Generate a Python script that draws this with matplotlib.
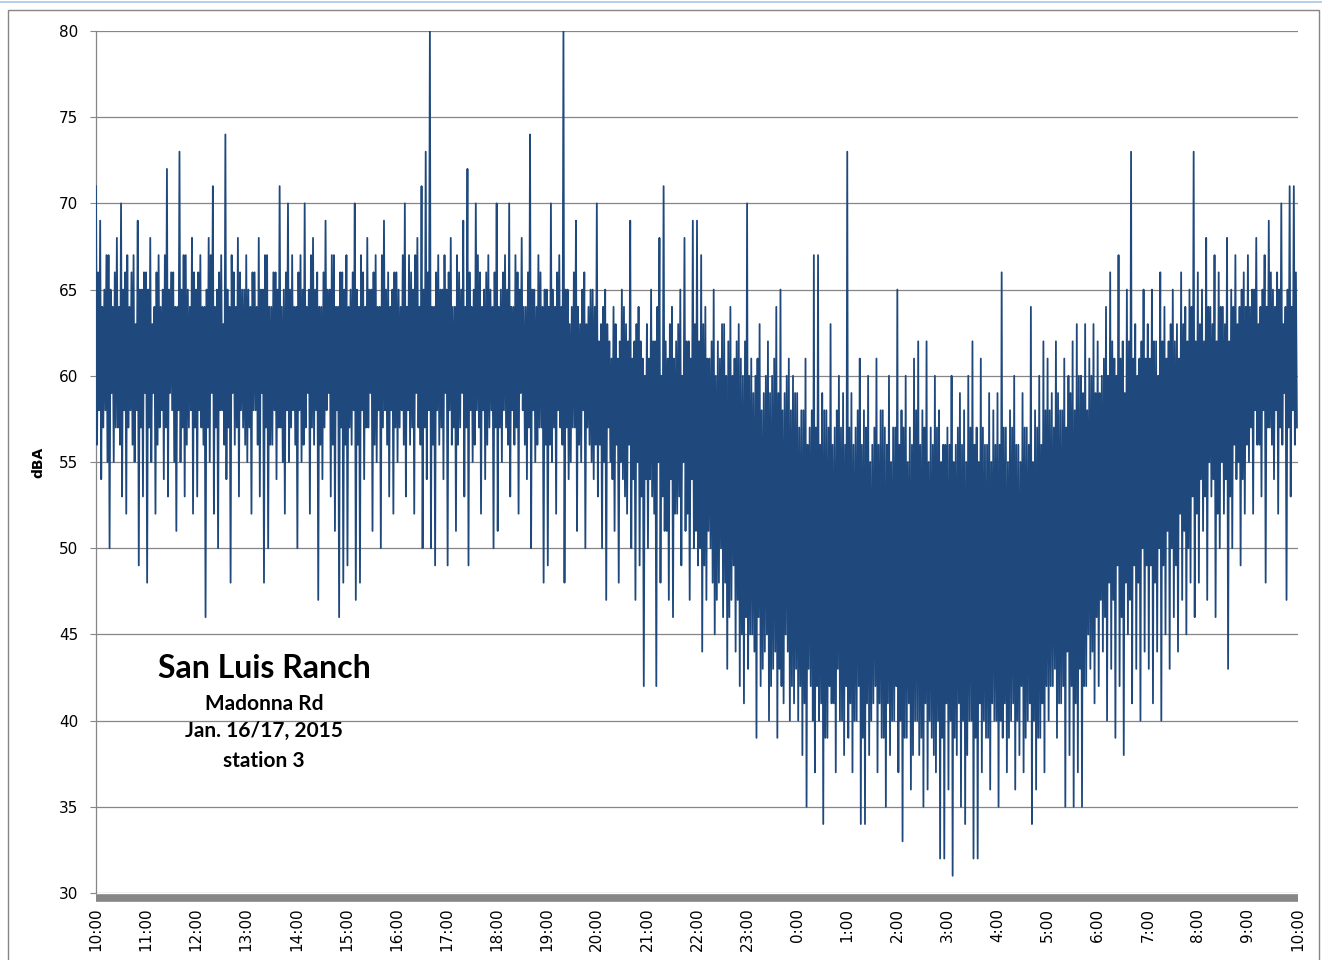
import numpy as np
import matplotlib.pyplot as plt
from matplotlib.patches import Rectangle
from matplotlib.lines import Line2D

# Sound level readings (dBA): alternating peak / dip, one pair per 2.5 min,
# one row per hour starting at 10:00 on Jan. 16
hi_day = [
    [71, 66, 69, 64, 65, 67, 67, 65, 64, 66, 68, 64, 70, 65, 66, 67, 64, 66, 67, 63, 69, 65, 65, 66],  # 10:00
    [66, 65, 68, 63, 64, 66, 67, 64, 65, 67, 72, 65, 66, 66, 64, 64, 73, 65, 67, 67, 65, 64, 68, 66],  # 11:00
    [65, 66, 67, 64, 64, 65, 68, 67, 71, 64, 65, 66, 67, 63, 74, 65, 64, 67, 66, 64, 68, 66, 65, 65],  # 12:00
    [67, 65, 64, 66, 66, 64, 68, 65, 65, 67, 67, 64, 64, 66, 66, 65, 71, 64, 65, 66, 70, 65, 67, 64],  # 13:00
    [64, 66, 67, 65, 70, 64, 65, 67, 68, 65, 66, 64, 64, 66, 69, 65, 65, 67, 67, 64, 64, 66, 66, 65],  # 14:00
    [67, 64, 65, 66, 70, 65, 64, 67, 66, 64, 68, 65, 65, 66, 67, 64, 64, 67, 69, 65, 66, 64, 65, 66],  # 15:00
    [66, 65, 64, 67, 70, 64, 67, 66, 65, 67, 68, 64, 71, 65, 73, 66, 80, 64, 64, 66, 67, 65, 65, 67],  # 16:00
    [65, 66, 68, 64, 64, 67, 66, 65, 69, 64, 72, 66, 64, 65, 70, 67, 66, 64, 65, 66, 67, 65, 64, 66],  # 17:00
    [70, 64, 65, 66, 67, 65, 70, 64, 64, 67, 66, 65, 68, 64, 64, 66, 74, 65, 65, 64, 67, 66, 64, 65],  # 18:00
    [65, 64, 70, 65, 64, 66, 67, 64, 80, 65, 65, 63, 64, 66, 69, 64, 63, 65, 66, 63, 64, 65, 65, 64],  # 19:00
]
lo_day = [
    [56, 58, 54, 57, 58, 55, 50, 59, 55, 57, 57, 56, 53, 58, 52, 57, 58, 56, 55, 58, 49, 57, 53, 59],
    [48, 57, 55, 59, 52, 56, 57, 58, 54, 57, 53, 59, 58, 55, 51, 58, 55, 57, 53, 56, 57, 58, 52, 57],
    [53, 58, 57, 56, 46, 57, 55, 59, 52, 57, 50, 58, 58, 56, 54, 57, 48, 59, 56, 57, 53, 58, 57, 56],
    [55, 57, 52, 58, 58, 56, 53, 59, 48, 57, 50, 56, 56, 58, 54, 57, 57, 55, 52, 58, 55, 57, 58, 56],
    [50, 58, 55, 56, 57, 59, 52, 57, 56, 58, 47, 56, 54, 57, 58, 59, 53, 56, 51, 58, 46, 57, 48, 56],
    [49, 57, 56, 58, 47, 56, 48, 58, 54, 57, 57, 59, 51, 56, 55, 58, 50, 57, 58, 56, 53, 58, 52, 57],
    [55, 57, 58, 56, 53, 58, 56, 57, 52, 59, 57, 56, 50, 57, 54, 58, 50, 56, 49, 58, 56, 57, 54, 59],
    [49, 58, 56, 57, 51, 56, 57, 59, 53, 57, 49, 58, 55, 56, 58, 57, 52, 58, 54, 56, 57, 58, 50, 57],
    [51, 57, 55, 58, 57, 56, 53, 58, 56, 57, 52, 59, 58, 56, 54, 57, 50, 58, 55, 56, 57, 57, 48, 56],
    [49, 56, 55, 57, 52, 58, 57, 56, 48, 57, 54, 55, 57, 57, 51, 56, 55, 58, 50, 57, 56, 55, 54, 56],
]

# 20:00 to 04:00
hi_night = [
    [70, 62, 63, 64, 65, 63, 62, 61, 64, 63, 61, 62, 65, 64, 63, 62, 69, 61, 62, 63, 64, 62, 61, 60],  # 20:00
    [63, 61, 65, 62, 62, 64, 68, 60, 71, 62, 61, 63, 64, 61, 62, 63, 65, 60, 68, 62, 62, 61, 69, 63],  # 21:00
    [69, 62, 67, 63, 64, 61, 61, 62, 65, 60, 62, 61, 63, 63, 60, 62, 64, 60, 61, 62, 63, 61, 60, 62],  # 22:00
    [70, 60, 61, 59, 60, 61, 63, 58, 59, 60, 62, 59, 60, 61, 64, 59, 65, 58, 59, 60, 61, 58, 60, 59],  # 23:00
    [59, 57, 58, 58, 61, 56, 57, 58, 67, 57, 67, 56, 59, 58, 58, 57, 63, 56, 57, 58, 60, 57, 59, 56],  # 0:00
    [73, 57, 59, 56, 57, 58, 61, 56, 58, 57, 60, 55, 56, 57, 61, 56, 58, 58, 57, 56, 60, 55, 57, 57],  # 1:00
    [65, 56, 58, 57, 60, 55, 57, 56, 61, 58, 62, 56, 58, 57, 62, 55, 57, 56, 60, 57, 58, 55, 56, 56],  # 2:00
    [57, 56, 60, 55, 56, 57, 59, 56, 58, 55, 60, 57, 62, 56, 57, 55, 61, 57, 56, 56, 59, 55, 58, 56],  # 3:00
]
lo_night = [
    [53, 56, 50, 55, 47, 57, 55, 54, 51, 56, 48, 55, 54, 53, 52, 56, 50, 54, 47, 55, 49, 53, 42, 54],
    [50, 54, 53, 52, 42, 55, 48, 53, 51, 51, 47, 54, 46, 52, 52, 53, 49, 55, 51, 52, 47, 54, 50, 51],
    [49, 50, 44, 49, 47, 51, 50, 48, 45, 47, 48, 50, 46, 48, 43, 46, 47, 49, 44, 47, 42, 45, 41, 46],
    [43, 45, 45, 44, 39, 46, 42, 43, 44, 45, 40, 42, 43, 44, 39, 43, 42, 41, 45, 44, 40, 42, 41, 43],
    [40, 42, 38, 41, 35, 43, 42, 40, 37, 42, 40, 41, 34, 39, 39, 42, 41, 41, 37, 43, 40, 40, 38, 42],
    [39, 41, 37, 40, 40, 42, 34, 39, 34, 41, 38, 40, 41, 42, 37, 41, 39, 39, 35, 41, 38, 40, 40, 42],
    [37, 40, 33, 39, 39, 41, 36, 38, 40, 40, 38, 39, 35, 41, 36, 40, 39, 38, 37, 40, 32, 39, 32, 41],
    [36, 40, 31, 39, 38, 41, 35, 40, 34, 38, 40, 40, 32, 39, 32, 41, 37, 40, 39, 39, 36, 41, 40, 40],
]

# 04:00 to 10:00 on Jan. 17
hi_morn = [
    [59, 56, 66, 57, 57, 55, 58, 57, 60, 56, 56, 55, 59, 57, 57, 56, 64, 55, 58, 57, 60, 56, 62, 58],  # 4:00
    [61, 58, 59, 57, 62, 59, 58, 58, 61, 57, 60, 59, 62, 58, 63, 60, 60, 59, 63, 58, 61, 60, 63, 59],  # 5:00
    [62, 59, 60, 61, 64, 60, 66, 62, 61, 60, 67, 61, 62, 59, 65, 62, 73, 61, 63, 60, 61, 62, 65, 61],  # 6:00
    [63, 61, 65, 62, 62, 60, 66, 62, 64, 61, 62, 63, 65, 62, 63, 61, 66, 63, 64, 62, 65, 64, 73, 62],  # 7:00
    [66, 63, 65, 62, 68, 64, 64, 63, 67, 62, 66, 64, 64, 63, 68, 62, 65, 64, 67, 63, 64, 65, 66, 64],  # 8:00
    [67, 64, 65, 65, 68, 63, 64, 65, 67, 64, 69, 66, 65, 64, 66, 65, 70, 63, 64, 65, 71, 64, 71, 66],  # 9:00
]
lo_morn = [
    [35, 40, 39, 41, 37, 39, 40, 41, 36, 40, 38, 42, 37, 39, 40, 41, 34, 40, 36, 39, 39, 41, 37, 42],
    [40, 42, 42, 43, 39, 41, 41, 42, 35, 44, 38, 42, 35, 41, 37, 43, 35, 42, 42, 45, 43, 44, 41, 46],
    [42, 47, 44, 46, 40, 48, 43, 47, 39, 49, 42, 46, 38, 48, 45, 47, 41, 49, 43, 48, 40, 50, 44, 49],
    [43, 49, 41, 48, 44, 50, 40, 49, 45, 51, 43, 50, 46, 49, 44, 52, 47, 51, 45, 50, 48, 53, 46, 52],
    [48, 54, 51, 53, 47, 55, 53, 54, 46, 52, 50, 55, 52, 54, 43, 53, 50, 56, 54, 55, 49, 54, 52, 56],
    [55, 57, 52, 58, 56, 56, 53, 58, 48, 57, 57, 56, 54, 58, 52, 57, 56, 59, 47, 57, 53, 58, 56, 57],
]

hour_labels = [f"{h % 24}:00" for h in range(10, 35)]

# interleave peaks and dips into one time series
hi = np.array(hi_day + hi_night + hi_morn).ravel()
lo = np.array(lo_day + lo_night + lo_morn).ravel()
dba = np.empty(hi.size * 2)
dba[0::2] = hi
dba[1::2] = lo
t = 10 + np.arange(dba.size) * 1.25 / 60  # hours since midnight Jan. 16
t_hours = np.arange(10, 35)

W, H = 1322, 960
grey = "#868686"
blue = "#1F497D"

fig = plt.figure(figsize=(W / 100, H / 100), dpi=100)
ax = fig.add_axes([96 / W, 1 - 893 / H, 1202 / W, 862 / H])

ax.plot(t, dba, color=blue, lw=1.3, zorder=3)

ax.set_xlim(10, 34)
ax.set_ylim(30, 80)

ax.grid(axis="y", color=grey, lw=0.9, zorder=1)
ax.set_axisbelow(True)
for s in ["top", "right"]:
    ax.spines[s].set_visible(False)
ax.spines["left"].set_color(grey)
ax.spines["left"].set_linewidth(0.9)
ax.spines["bottom"].set_color(grey)
ax.spines["bottom"].set_linewidth(5.5)
ax.spines["bottom"].set_position(("outward", 3.5))
ax.spines["bottom"].set_capstyle("butt")

ax.set_yticks(range(30, 81, 5))
ax.set_xticks(t_hours)
ax.set_xticklabels(hour_labels)
ax.tick_params(axis="x", length=0, pad=7, labelsize=11, labelrotation=90)
ax.tick_params(axis="y", length=4.3, width=0.8, color=grey, pad=8.5, labelsize=11)

ax.set_ylabel("dBA", fontsize=10, fontweight="bold")
ax.yaxis.set_label_coords(-0.042, 0.5)

# chart border and top rule
fig.add_artist(Rectangle((8 / W, -0.01), 1311 / W, 1 - 10 / H + 0.01,
                         transform=fig.transFigure, fill=False,
                         edgecolor=grey, lw=1.0))
fig.add_artist(Line2D([0, 1], [1 - 2 / H, 1 - 2 / H], transform=fig.transFigure,
                      color="#A9C6E8", lw=1.2))

# station caption
cx = 264 / W
fig.text(cx, 1 - 669 / H, "San Luis Ranch", family="Lato", fontweight="bold",
         fontsize=23, ha="center", va="center")
fig.text(cx, 1 - 704 / H, "Madonna Rd", family="Lato", fontweight="bold",
         fontsize=15, ha="center", va="center")
fig.text(cx, 1 - 731 / H, "Jan. 16/17, 2015", family="Lato", fontweight="bold",
         fontsize=15, ha="center", va="center")
fig.text(cx, 1 - 761 / H, "station 3", family="Lato", fontweight="bold",
         fontsize=15, ha="center", va="center")

fig.savefig("out.png", dpi=100)
